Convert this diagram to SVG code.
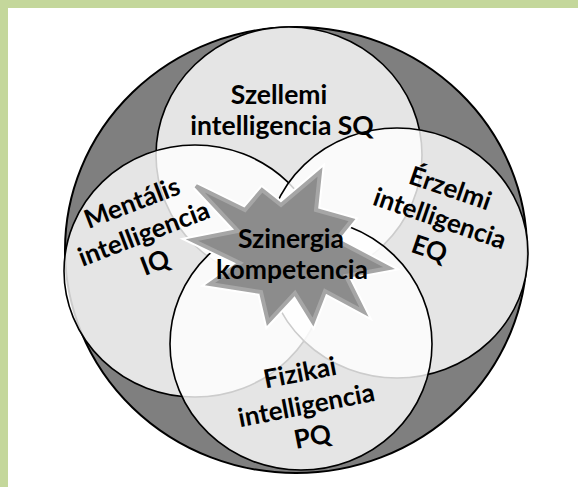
<svg xmlns="http://www.w3.org/2000/svg" width="578" height="487" viewBox="0 0 578 487">
<style>
.ring{fill:#ffffff;fill-opacity:0.8;stroke:#000;stroke-width:1.6}
.lbl{font-family:Lato,"Noto Sans",sans-serif;font-weight:bold;font-size:26px;fill:#000;text-anchor:middle}
.big{font-size:26.5px}
</style>
<rect width="578" height="487" fill="#ffffff"/>
<rect x="0" y="0" width="578" height="8" fill="#c4d79b"/>
<rect x="0" y="0" width="8" height="487" fill="#c4d79b"/>
<g id="outer"><ellipse cx="296" cy="250" rx="231" ry="223" fill="#7f7f7f" stroke="#000" stroke-width="2"/></g>
<g id="node-sq"><ellipse class="ring" cx="289" cy="155" rx="133" ry="128"/></g>
<g id="node-iq"><ellipse class="ring" cx="195" cy="271" rx="131" ry="126"/></g>
<g id="node-eq"><ellipse class="ring" cx="397" cy="253" rx="131" ry="125"/></g>
<g id="node-pq"><ellipse class="ring" cx="301" cy="344" rx="131" ry="126"/></g>
<g id="connectors"></g>
<g id="node-star">
<polygon points="196,186 245,210 262,190 281,205 320,172 316,210 352,220 336,240 389,268 346,276 364,312 325,291 313,322 295,293 268,322 261,292 210,284 240,263 192,240 238,231" fill="none" stroke="#ffffff" stroke-width="8"/>
<polygon points="196,186 245,210 262,190 281,205 320,172 316,210 352,220 336,240 389,268 346,276 364,312 325,291 313,322 295,293 268,322 261,292 210,284 240,263 192,240 238,231" fill="#8c8c8c" stroke="#a6a6a6" stroke-width="4"/>
<text class="lbl big" x="291" y="248">Szinergia</text>
<text class="lbl big" x="292" y="279">kompetencia</text>
</g>
<g id="label-sq">
<text class="lbl big" x="279" y="104">Szellemi</text>
<text class="lbl big" x="282" y="135">intelligencia SQ</text>
</g>
<g id="label-iq" transform="translate(147,242) rotate(-21)">
<text class="lbl" x="0" y="-33">Mentális</text>
<text class="lbl" x="0" y="0">intelligencia</text>
<text class="lbl" x="0" y="31">IQ</text>
</g>
<g id="label-eq" transform="translate(437,227) rotate(19)">
<text class="lbl" x="0" y="-32">Érzelmi</text>
<text class="lbl" x="0" y="0">intelligencia</text>
<text class="lbl" x="0" y="32">EQ</text>
</g>
<g id="label-pq" transform="translate(308,414) rotate(-11)">
<text class="lbl" x="0" y="-33">Fizikai</text>
<text class="lbl" x="0" y="0">intelligencia</text>
<text class="lbl" x="0" y="32">PQ</text>
</g>
</svg>
